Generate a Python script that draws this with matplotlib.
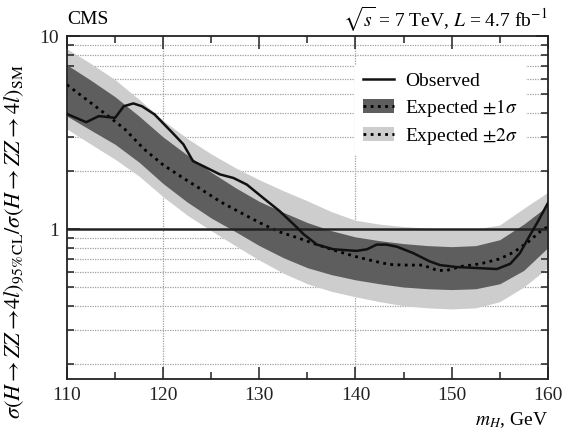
import matplotlib
matplotlib.use("Agg")
import matplotlib.pyplot as plt
from matplotlib.patches import Patch
from matplotlib.lines import Line2D
from matplotlib.ticker import FixedLocator, NullFormatter, MultipleLocator

plt.rcParams['font.family'] = ['Liberation Serif', 'DejaVu Serif']
plt.rcParams['mathtext.fontset'] = 'stix'

# expected bands (sigma / sigma_SM)
band_mass = [110, 112.5, 115, 117.5, 120, 122.5, 125, 127.5, 130, 132.5, 135,
             137.5, 140, 142.5, 145, 147.5, 150, 152.5, 155, 157.5, 160]
lo2 = [3.3, 2.75, 2.3, 1.88, 1.47, 1.18, 0.98, 0.82, 0.69, 0.59, 0.52,
       0.475, 0.445, 0.42, 0.40, 0.39, 0.385, 0.39, 0.42, 0.5, 0.63]
lo1 = [3.85, 3.25, 2.75, 2.22, 1.72, 1.38, 1.14, 0.97, 0.82, 0.71, 0.63,
       0.58, 0.545, 0.52, 0.50, 0.49, 0.485, 0.49, 0.52, 0.61, 0.80]
hi1 = [7.1, 5.9, 4.85, 3.85, 3.0, 2.42, 1.97, 1.64, 1.39, 1.22, 1.08,
       0.98, 0.91, 0.87, 0.84, 0.82, 0.81, 0.82, 0.88, 1.06, 1.32]
hi2 = [8.6, 7.2, 5.95, 4.7, 3.65, 2.95, 2.45, 2.08, 1.8, 1.58, 1.4,
       1.23, 1.11, 1.06, 1.03, 1.01, 1.0, 1.0, 1.05, 1.28, 1.55]

# median expected
exp_mass = [110, 112, 114, 116, 118, 120, 122, 124, 126, 128, 130, 132, 134, 136,
            138, 140, 142, 143.5, 145, 147, 148.5, 149.5, 151, 153, 155, 156.5,
            158, 159.2, 160]
exp_lim = [5.6, 4.7, 3.95, 3.3, 2.6, 2.15, 1.85, 1.6, 1.38, 1.22, 1.08, 0.97, 0.90, 0.83,
           0.77, 0.72, 0.68, 0.655, 0.65, 0.65, 0.61, 0.61, 0.64, 0.66, 0.70, 0.76,
           0.86, 0.97, 1.03]

# observed
obs_mass = [110, 112, 113.3, 114, 115, 115.9, 116.9, 117.8, 119.1, 120.9, 122.1, 123.1,
            124.5, 125.9, 127.3, 128.7, 130.4, 132.1, 133.9, 134.6, 136, 137.7, 140.1,
            141.2, 142.2, 143.2, 144.3, 146, 147.7, 148.8, 150.5, 152, 154.7, 156.1,
            157.1, 158.1, 159, 160]
obs_lim = [3.95, 3.58, 3.85, 3.82, 3.77, 4.33, 4.48, 4.33, 3.93, 3.18, 2.75, 2.25,
           2.08, 1.92, 1.84, 1.70, 1.45, 1.24, 1.02, 0.94, 0.83, 0.785, 0.77,
           0.785, 0.83, 0.83, 0.81, 0.75, 0.68, 0.65, 0.635, 0.63, 0.62, 0.66,
           0.75, 0.92, 1.10, 1.36]

grid_y = [0.2, 0.3, 0.4, 0.5, 0.6, 0.7, 0.8, 0.9, 2, 3, 4, 5, 6, 7, 8, 9]
grid_x = [120, 140]

dark = '#5e5e5e'
light = '#cdcdcd'

fig = plt.figure(figsize=(5.63, 4.36), dpi=100)
ax = fig.add_axes([0.119, 0.131, 0.854, 0.786])

for g in grid_y:
    ax.axhline(g, color='#a0a0a0', lw=0.9, ls=(0, (1, 1)), zorder=0)
for g in grid_x:
    ax.axvline(g, color='#a0a0a0', lw=0.9, ls=(0, (1, 1)), zorder=0)

ax.fill_between(band_mass, lo2, hi2, color=light, lw=0, zorder=1)
ax.fill_between(band_mass, lo1, hi1, color=dark, lw=0, zorder=2)
ax.plot(exp_mass, exp_lim, color='black', lw=2, ls=(0, (1, 1.6)), zorder=3)
ax.axhline(1, color='#222222', lw=1.8, zorder=4)
ax.plot(obs_mass, obs_lim, color='#111111', lw=1.8, zorder=5)

ax.set_yscale('log')
ax.set_xlim(110, 160)
ax.set_ylim(0.167, 10)
ax.xaxis.set_major_locator(MultipleLocator(10))
ax.xaxis.set_minor_locator(MultipleLocator(5))
ax.yaxis.set_major_locator(FixedLocator([1, 10]))
ax.yaxis.set_minor_locator(FixedLocator(grid_y))
ax.yaxis.set_minor_formatter(NullFormatter())
ax.set_yticklabels(['1', '10'])
ax.tick_params(which='both', direction='in', top=True, right=True, labelsize=14,
               width=1.1, colors='#222222')
ax.tick_params(which='major', length=9, pad=6)
ax.tick_params(which='minor', length=5)
for s in ax.spines.values():
    s.set_linewidth(1.3)
    s.set_color('#222222')

ax.set_ylabel(r'$\sigma(H \rightarrow ZZ \rightarrow\!4l)_{95\%\,\mathrm{CL}}/\sigma(H \rightarrow ZZ \rightarrow 4l)_{\mathrm{SM}}$',
              fontsize=16)
ax.yaxis.set_label_coords(-0.085, 0.4)
fig.text(0.973, 0.037, r'$m_H$, GeV', ha='right', va='center', fontsize=14)
fig.text(0.119, 0.955, 'CMS', ha='left', va='center', fontsize=14)
fig.text(0.973, 0.955, r'$\sqrt{s}$ = 7 TeV, $L$ = 4.7 fb$^{-1}$', ha='right', va='center', fontsize=14)

handles = [Line2D([], [], color='#111111', lw=1.8),
           (Patch(facecolor=dark, lw=0), Line2D([], [], color='black', lw=2, ls=(0, (1, 1.6)))),
           (Patch(facecolor=light, lw=0), Line2D([], [], color='black', lw=2, ls=(0, (1, 1.6))))]
labels = ['Observed', r'Expected $\pm1\sigma$', r'Expected $\pm2\sigma$']
leg = ax.legend(handles, labels, loc='upper right', bbox_to_anchor=(0.975, 0.945),
                fontsize=14, frameon=True, fancybox=False, edgecolor='none',
                facecolor='white', framealpha=1, handlelength=1.6, handletextpad=0.6,
                labelspacing=0.35, borderpad=0.4)
leg.set_zorder(6)

fig.savefig('out.png', dpi=100, facecolor='white')
